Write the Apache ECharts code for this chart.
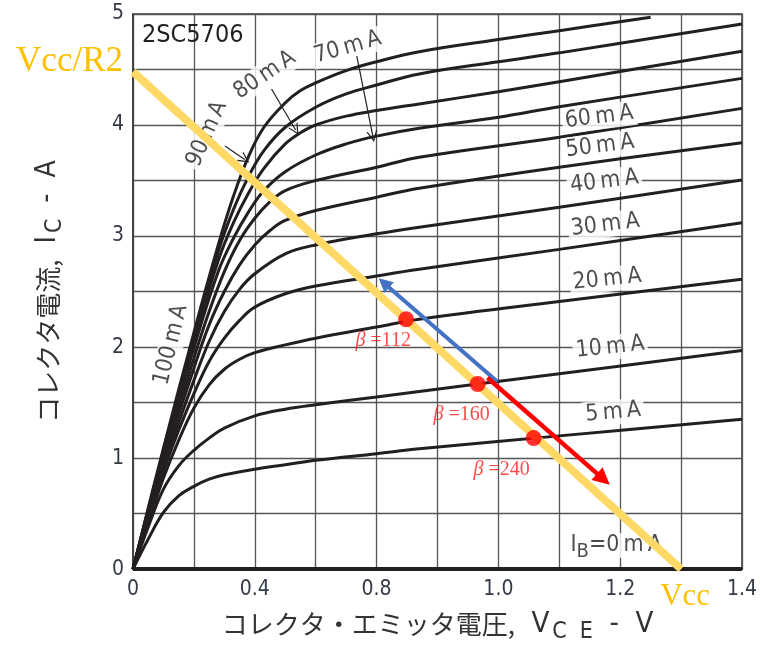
<!DOCTYPE html>
<html>
<head>
<meta charset="utf-8">
<script src="https://cdn.jsdelivr.net/npm/echarts@6/dist/echarts.min.js"></script>
<style>
  html, body { margin: 0; padding: 0; background: #ffffff; }
  #chart { width: 760px; height: 649px; }
</style>
</head>
<body>
<div id="chart"></div>
<script>
// 2SC5706 collector characteristics: IC versus VCE for a family of base currents,
// with a load line and three operating points.

// Tick labels printed on every second grid division
const xTickLabels = ['0', '0.4', '0.8', '1.0', '1.2', '1.4'];
const yTickLabels = ['0', '1', '2', '3', '4', '5'];

// Characteristic curves, [VCE, IC] pairs
const curve100 = [[0,0],[0.1,1.09],[0.2,2.13],[0.28,2.92],[0.33,3.36],[0.38,3.72],[0.43,3.98],[0.5,4.2],[0.55,4.31],[0.6,4.38],[0.7,4.49],[0.8,4.57],[0.94,4.66],[1.2,4.77],[1.4,4.85],[1.7,4.97]];
const curve90  = [[0,0],[0.1,1.07],[0.2,2.09],[0.28,2.86],[0.33,3.24],[0.38,3.54],[0.43,3.77],[0.5,3.98],[0.6,4.16],[0.7,4.28],[0.8,4.36],[0.94,4.46],[1.2,4.57],[1.4,4.65],[2.0,4.91]];
const curve80  = [[0,0],[0.1,1.05],[0.2,2.04],[0.28,2.78],[0.33,3.12],[0.38,3.39],[0.43,3.61],[0.5,3.83],[0.55,3.93],[0.6,4.0],[0.7,4.08],[0.8,4.13],[0.94,4.19],[1.2,4.3],[1.4,4.39],[2.0,4.665]];
const curve70  = [[0,0],[0.1,1.03],[0.2,1.99],[0.28,2.68],[0.33,2.98],[0.38,3.22],[0.43,3.41],[0.5,3.58],[0.6,3.73],[0.7,3.83],[0.8,3.9],[0.94,3.97],[1.2,4.07],[1.4,4.165],[2.0,4.42]];
const curve60  = [[0,0],[0.1,0.99],[0.2,1.9],[0.25,2.32],[0.3,2.68],[0.35,2.96],[0.4,3.16],[0.45,3.31],[0.5,3.41],[0.6,3.5],[0.8,3.62],[0.94,3.71],[1.4,3.89],[2.0,4.15]];
const curve50  = [[0,0],[0.1,0.96],[0.2,1.81],[0.25,2.2],[0.3,2.5],[0.35,2.74],[0.4,2.92],[0.45,3.05],[0.5,3.14],[0.6,3.23],[0.8,3.35],[0.94,3.43],[1.4,3.62],[2.0,3.84]];
const curve40  = [[0,0],[0.1,0.92],[0.15,1.32],[0.2,1.7],[0.25,2.05],[0.3,2.32],[0.35,2.52],[0.4,2.66],[0.5,2.84],[0.6,2.92],[0.8,3.02],[0.94,3.08],[1.4,3.26],[2.0,3.505]];
const curve30  = [[0,0],[0.1,0.88],[0.15,1.25],[0.2,1.58],[0.25,1.87],[0.3,2.08],[0.35,2.24],[0.4,2.36],[0.5,2.48],[0.6,2.55],[0.8,2.64],[0.94,2.7],[1.4,2.88],[2.0,3.12]];
const curve20  = [[0,0],[0.05,0.42],[0.1,0.82],[0.15,1.16],[0.2,1.45],[0.25,1.66],[0.3,1.8],[0.35,1.89],[0.4,1.95],[0.5,2.02],[0.6,2.08],[0.8,2.18],[0.94,2.25],[1.4,2.41],[2.0,2.61]];
const curve10  = [[0,0],[0.05,0.38],[0.1,0.72],[0.15,0.93],[0.2,1.07],[0.25,1.18],[0.3,1.27],[0.4,1.38],[0.5,1.44],[0.6,1.48],[0.8,1.55],[0.94,1.6],[1.4,1.76],[2.0,1.97]];
const curve5   = [[0,0],[0.05,0.27],[0.1,0.51],[0.15,0.66],[0.2,0.745],[0.25,0.81],[0.3,0.85],[0.4,0.9],[0.5,0.94],[0.6,0.98],[0.8,1.04],[0.94,1.083],[1.4,1.2],[2.0,1.35]];
const curve0   = [[0,0],[2.0,0]];

const curves = [curve100, curve90, curve80, curve70, curve60, curve50, curve40, curve30, curve20, curve10, curve5, curve0];

// Base-current labels: [VCE, IC] anchor, rotation in degrees
const curveLabelText = ['100', '90', '80', '70', '60', '50', '40', '30', '20', '10', '5', '0'];
const curveLabelV    = [0.125, 0.243, 0.433, 0.705, 1.531, 1.534, 1.548, 1.551, 1.557, 1.567, 1.577, 1.587];
const curveLabelI    = [2.02, 3.92, 4.45, 4.70, 4.072, 3.81, 3.49, 3.10, 2.61, 1.998, 1.412, 0.213];
const curveLabelRot  = [76, 66, 34, 16, 7, 7, 7, 7, 6, 6, 5, 0];

// Leader arrows from the upper labels to their curves
const leaderArrows = [
  [[0.302, 3.81], [0.367, 3.69]],
  [[0.455, 4.325], [0.534, 3.955]],
  [[0.735, 4.62], [0.788, 3.896]]
];

// Load line: Vcc/R2 on the current axis, Vcc on the voltage axis
const loadLineV = [0, 1.8];
const loadLineI = [4.48, 0];

// Operating points on the load line and their current gains
const opV = [0.897, 1.132, 1.316];
const opI = [2.25, 1.667, 1.18];
const opBeta = ['112', '160', '240'];
const opLabelOffset = [[-23, 21], [-16, 31], [-32, 32]];

// Direction arrows along the load line
const blueArrow = [[1.197, 1.687], [0.824, 2.578]];
const redArrow  = [[1.164, 1.723], [1.545, 0.81]];

const narrow = '"DejaVu Sans Condensed", "Liberation Sans Narrow", "Liberation Sans", sans-serif';
const serif = '"Liberation Serif", "DejaVu Serif", serif';
const jp = '"Noto Sans CJK JP", sans-serif';
const ink = '#231f20';
const gold = '#ffd966';
const thin = '\u2009';

const series = [];

curves.forEach(function (c, i) {
  series.push({
    type: 'line',
    data: c,
    showSymbol: false,
    smooth: 0.4,
    lineStyle: { color: ink, width: i === curves.length - 1 ? 4 : 3 },
    z: 2,
    silent: true
  });
});

// base-current labels with white backing
series.push({
  type: 'scatter',
  symbolSize: 0,
  z: 4,
  silent: true,
  data: curveLabelText.map(function (t, i) {
    const text = t === '0'
      ? '{a|I}{s|B}{a|=0' + thin + 'm' + thin + 'A}'
      : '{a|' + t + thin + 'm' + thin + 'A}';
    return {
      value: [curveLabelV[i], curveLabelI[i]],
      label: {
        show: true,
        position: 'inside',
        rotate: curveLabelRot[i],
        formatter: text,
        backgroundColor: '#ffffff',
        padding: [0, 3],
        rich: {
          a: { fontFamily: narrow, fontSize: 23, color: ink, lineHeight: 25 },
          s: { fontFamily: narrow, fontSize: 20, color: ink, lineHeight: 20, padding: [12, 0, 0, 0] }
        }
      }
    };
  })
});

// leader arrows
series.push({
  type: 'lines',
  coordinateSystem: 'cartesian2d',
  z: 5,
  silent: true,
  symbol: ['none', 'path://M0,12 L6,0 L12,12 L10.6,12 L6,3 L1.4,12 Z'],
  symbolSize: [0, 11],
  lineStyle: { color: ink, width: 1.2, opacity: 1 },
  data: leaderArrows.map(function (a) { return { coords: a }; })
});

// load line with its end annotations
series.push({
  type: 'line',
  showSymbol: true,
  symbolSize: 0,
  lineStyle: { color: gold, width: 8, cap: 'butt' },
  z: 6,
  silent: true,
  label: { show: true, fontFamily: serif, color: '#ffc000' },
  data: [
    { value: [loadLineV[0], loadLineI[0]], label: { formatter: 'Vcc/R2', position: 'left', distance: 10, offset: [0, -10], fontSize: 35 } },
    { value: [loadLineV[1], loadLineI[1]], label: { formatter: 'Vcc', position: 'bottom', distance: 12, offset: [4, 0], fontSize: 31 } }
  ]
});

// blue and red direction arrows
series.push({
  type: 'lines',
  coordinateSystem: 'cartesian2d',
  z: 7,
  silent: true,
  symbol: ['none', 'triangle'],
  symbolSize: [0, 14],
  lineStyle: { color: '#4472c4', width: 4, opacity: 1 },
  data: [{ coords: blueArrow }]
});
series.push({
  type: 'lines',
  coordinateSystem: 'cartesian2d',
  z: 7,
  silent: true,
  symbol: ['none', 'triangle'],
  symbolSize: [0, 17],
  lineStyle: { color: '#ff0000', width: 4.5, opacity: 1 },
  data: [{ coords: redArrow }]
});

// operating points
series.push({
  type: 'scatter',
  symbolSize: 16,
  itemStyle: { color: '#ff0000' },
  z: 8,
  silent: true,
  data: opV.map(function (v, i) {
    return {
      value: [v, opI[i]],
      label: {
        show: true,
        position: 'inside',
        offset: opLabelOffset[i],
        formatter: '{g|β} =' + opBeta[i],
        fontFamily: serif,
        fontSize: 20,
        color: '#ff1a1a',
        rich: { g: { fontFamily: serif, fontStyle: 'italic', fontSize: 20, color: '#ff1a1a' } }
      }
    };
  })
});

const chart = echarts.init(document.getElementById('chart'), null, { renderer: 'canvas' });
chart.setOption({
  animation: false,
  backgroundColor: '#ffffff',
  title: {
    text: '2SC5706',
    left: 142,
    top: 23,
    padding: 0,
    textStyle: { fontFamily: narrow, fontSize: 25, fontWeight: 'normal', color: ink }
  },
  grid: { left: 133, right: 17, top: 14, bottom: 72, show: true, borderColor: '#3a3a3a', borderWidth: 1.5 },
  xAxis: {
    type: 'value',
    min: 0,
    max: 2.0,
    interval: 0.2,
    axisLine: { show: true, lineStyle: { color: ink, width: 2 } },
    axisTick: { show: false },
    splitLine: { show: true, lineStyle: { color: '#555555', width: 1.3 } },
    axisLabel: {
      margin: 10,
      fontFamily: narrow,
      fontSize: 21,
      color: '#333a45',
      showMinLabel: true,
      showMaxLabel: true,
      formatter: function (v) {
        const k = Math.round(v / 0.4);
        return Math.abs(v - k * 0.4) < 1e-6 ? xTickLabels[k] : '';
      }
    },
    name: '{jp|コレクタ・エミッタ電圧,}{lat|  V}{sub|C  E}{lat|  -  V}',
    nameLocation: 'middle',
    nameGap: 34,
    nameTextStyle: {
      rich: {
        jp: { fontFamily: jp, fontSize: 26, color: '#333333', lineHeight: 34 },
        lat: { fontFamily: narrow, fontSize: 29, color: '#333333', lineHeight: 34 },
        sub: { fontFamily: narrow, fontSize: 23, color: '#333333', lineHeight: 24, padding: [16, 0, 0, 3] }
      }
    }
  },
  yAxis: {
    type: 'value',
    min: 0,
    max: 5,
    interval: 0.5,
    axisLine: { show: true, lineStyle: { color: '#3a3a3a', width: 1.5 } },
    axisTick: { show: false },
    splitLine: { show: true, lineStyle: { color: '#555555', width: 1.3 } },
    axisLabel: {
      margin: 9,
      fontFamily: narrow,
      fontSize: 21,
      color: '#333a45',
      formatter: function (v) {
        return Math.abs(v - Math.round(v)) < 1e-6 ? yTickLabels[Math.round(v)] : '';
      }
    },
    name: '{jp|コレクタ電流,}{lat|  I}{sub|C}{lat|  -  A}',
    nameLocation: 'middle',
    nameGap: 68,
    nameTextStyle: {
      rich: {
        jp: { fontFamily: jp, fontSize: 26, color: '#333333', lineHeight: 34 },
        lat: { fontFamily: narrow, fontSize: 28, color: '#333333', lineHeight: 34 },
        sub: { fontFamily: narrow, fontSize: 23, color: '#333333', lineHeight: 24, padding: [14, 0, 0, 3] }
      }
    }
  },
  series: series
});
</script>
</body>
</html>
